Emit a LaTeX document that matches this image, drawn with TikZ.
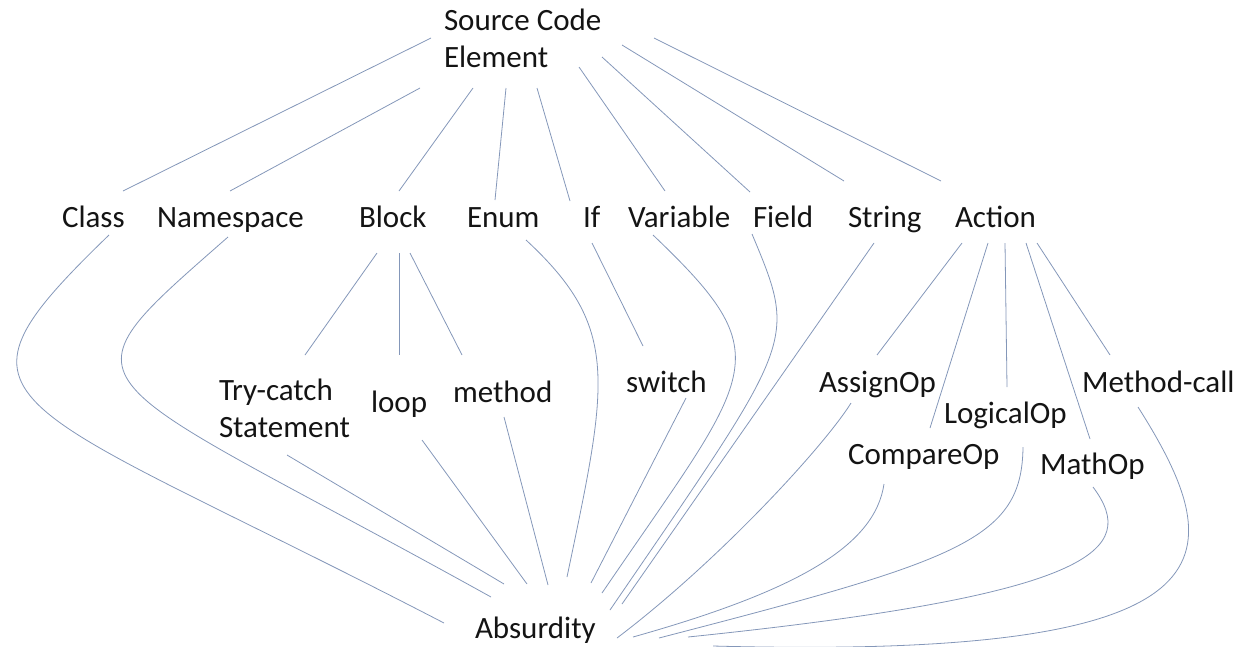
\documentclass[tikz,border=0pt]{standalone}
\usepackage{fontspec}
\setmainfont{Carlito}
\definecolor{edgeblue}{RGB}{132,151,185}
\definecolor{txt}{RGB}{20,20,20}
\begin{document}
\begin{tikzpicture}[x=1pt,y=-1pt,
  lbl/.style={anchor=base west, inner sep=0pt, outer sep=0pt, text=txt, font=\fontsize{31}{37.5}\selectfont},
  edge/.style={draw=edgeblue, line width=0.8pt},
]
\useasboundingbox (0,0) rectangle (1249,646);
% nodes
\node[lbl] (sce) at (444,30) {\begin{tabular}[t]{@{}l@{}}Source Code\\Element\end{tabular}};
\node[lbl] (class) at (62,227) {Class};
\node[lbl] (ns) at (157,227) {Namespace};
\node[lbl] (block) at (359,227) {Block};
\node[lbl] (enum) at (467,227) {Enum};
\node[lbl] (if) at (583,227) {If};
\node[lbl] (var) at (628,227) {Variable};
\node[lbl] (field) at (753,227) {Field};
\node[lbl] (string) at (848,227) {String};
\node[lbl] (action) at (955,227) {Action};
\node[lbl] (try) at (219,400) {\begin{tabular}[t]{@{}l@{}}Try-catch\\Statement\end{tabular}};
\node[lbl] (loop) at (371,412) {loop};
\node[lbl] (method) at (453,402) {method};
\node[lbl] (switch) at (626,392) {switch};
\node[lbl] (assign) at (819,392) {AssignOp};
\node[lbl] (logical) at (944,423) {LogicalOp};
\node[lbl] (compare) at (848,464) {CompareOp};
\node[lbl] (math) at (1040,474) {MathOp};
\node[lbl] (mcall) at (1082,392) {Method-call};
\node[lbl] (abs) at (475,638) {Absurdity};
% top level edges
\draw[edge] ([shift={(-13,8)}]sce.base west) -- ([shift={(61,-36)}]class.base west);
\draw[edge] ([shift={(-24,58)}]sce.base west) -- ([shift={(73,-36)}]ns.base west);
\draw[edge] ([shift={(29,58)}]sce.base west) -- ([shift={(40,-36)}]block.base west);
\draw[edge] ([shift={(62,58)}]sce.base west) -- ([shift={(28,-27)}]enum.base west);
\draw[edge] ([shift={(93,58)}]sce.base west) -- ([shift={(-13,-26)}]if.base west);
\draw[edge] ([shift={(135,37)}]sce.base west) -- ([shift={(37,-36)}]var.base west);
\draw[edge] ([shift={(158,27)}]sce.base west) -- ([shift={(-3,-35)}]field.base west);
\draw[edge] ([shift={(178,15)}]sce.base west) -- ([shift={(-4,-46)}]string.base west);
\draw[edge] ([shift={(210,8)}]sce.base west) -- ([shift={(-14,-46)}]action.base west);
% block children
\draw[edge] ([shift={(18,26)}]block.base west) -- ([shift={(86,-45)}]try.base west);
\draw[edge] ([shift={(40,26)}]block.base west) -- ([shift={(28,-57)}]loop.base west);
\draw[edge] ([shift={(51,26)}]block.base west) -- ([shift={(9,-47)}]method.base west);
% if child
\draw[edge] ([shift={(9,16)}]if.base west) -- ([shift={(17,-46)}]switch.base west);
% action children
\draw[edge] ([shift={(7,16)}]action.base west) -- ([shift={(58,-37)}]assign.base west);
\draw[edge] ([shift={(33,16)}]action.base west) -- ([shift={(82,-36)}]compare.base west);
\draw[edge] ([shift={(50,16)}]action.base west) -- ([shift={(63,-36)}]logical.base west);
\draw[edge] ([shift={(71,16)}]action.base west) -- ([shift={(50,-35)}]math.base west);
\draw[edge] ([shift={(82,16)}]action.base west) -- ([shift={(28,-37)}]mcall.base west);
% edges to Absurdity
\draw[edge] ([shift={(47,8)}]class.base west) .. controls (-72,410) and (0,393) .. ([shift={(-31,-15)}]abs.base west);
\draw[edge] ([shift={(71,10)}]ns.base west) .. controls (48,395) and (71,364) .. ([shift={(16,-41)}]abs.base west);
\draw[edge] ([shift={(68,55)}]try.base west) -- ([shift={(29,-54)}]abs.base west);
\draw[edge] ([shift={(51,28)}]loop.base west) -- ([shift={(52,-54)}]abs.base west);
\draw[edge] ([shift={(51,15)}]method.base west) -- ([shift={(73,-53)}]abs.base west);
\draw[edge] ([shift={(59,13)}]enum.base west) .. controls (621,328) and (608,381) .. ([shift={(92,-61)}]abs.base west);
\draw[edge] ([shift={(60,6)}]switch.base west) -- ([shift={(116,-55)}]abs.base west);
\draw[edge] ([shift={(25,8)}]var.base west) .. controls (783,359) and (754,370) .. ([shift={(127,-45)}]abs.base west);
\draw[edge] ([shift={(-1,7)}]field.base west) .. controls (798,344) and (796,338) .. ([shift={(135,-28)}]abs.base west);
\draw[edge] ([shift={(26,16)}]string.base west) -- ([shift={(147,-34)}]abs.base west);
\draw[edge] ([shift={(32,11)}]assign.base west) .. controls (825,445) and (720,560) .. ([shift={(142,0)}]abs.base west);
\draw[edge] ([shift={(36,20)}]compare.base west) .. controls (875,545) and (800,590) .. ([shift={(158,-1)}]abs.base west);
\draw[edge] ([shift={(79,24)}]logical.base west) .. controls (1022,540) and (960,560) .. ([shift={(184,0)}]abs.base west);
\draw[edge] ([shift={(53,13)}]math.base west) .. controls (1140,550) and (1095,595) .. ([shift={(213,-1)}]abs.base west);
\draw[edge] ([shift={(56,15)}]mcall.base west) .. controls (1235,560) and (1240,660) .. ([shift={(238,8)}]abs.base west);
\end{tikzpicture}
\end{document}
